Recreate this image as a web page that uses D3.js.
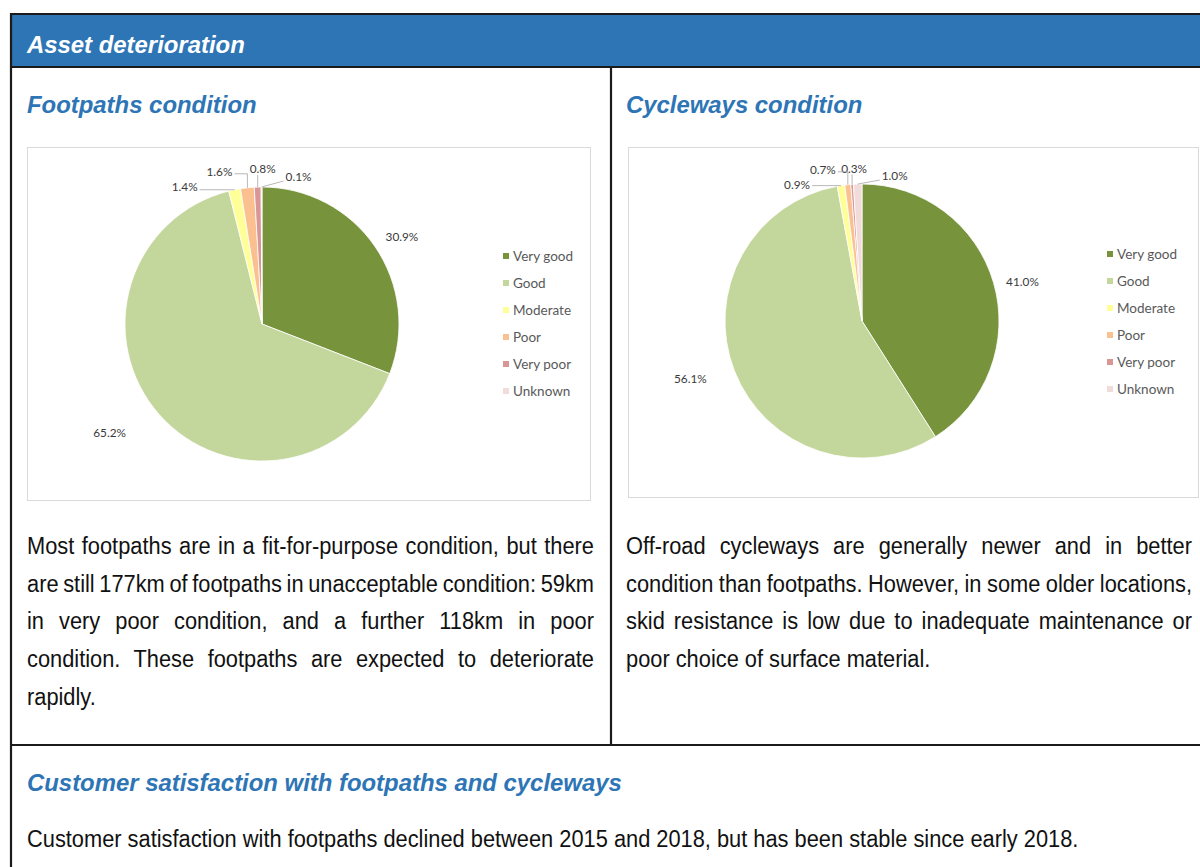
<!DOCTYPE html>
<html><head><meta charset="utf-8">
<script src="https://cdn.jsdelivr.net/npm/d3@7"></script>
<style>html,body{margin:0;padding:0;background:#fff;} svg{display:block}</style>
</head><body><div id="chart"></div>
<script>
// ---------- data ----------
const categories = ["Very good", "Good", "Moderate", "Poor", "Very poor", "Unknown"];
const footpathValues = [30.9, 65.2, 1.4, 1.6, 0.8, 0.1];
const cyclewayValues = [41.0, 56.1, 0.9, 0.7, 0.3, 1.0];
const sliceColors = ["#77933C", "#C3D69B", "#FFFF99", "#FAC090", "#D99694", "#F2DCDB"];
const pageTitle = "Asset deterioration";
const chartTitles = ["Footpaths condition", "Cycleways condition"];
const footpathText = [
  "Most footpaths are in a fit-for-purpose condition, but there",
  "are still 177km of footpaths in unacceptable condition: 59km",
  "in very poor condition, and a further 118km in poor",
  "condition. These footpaths are expected to deteriorate",
  "rapidly."
];
const cyclewayText = [
  "Off-road cycleways are generally newer and in better",
  "condition than footpaths. However, in some older locations,",
  "skid resistance is low due to inadequate maintenance or",
  "poor choice of surface material."
];
const sectionTitle = "Customer satisfaction with footpaths and cycleways";
const sectionText = "Customer satisfaction with footpaths declined between 2015 and 2018, but has been stable since early 2018.";

// ---------- layout ----------
const W = 1200, H = 867;
const BLUE = "#2E75B6", LINE = "#1b1b1b";
const HEAD_FONT = "'Liberation Sans', Arial, Helvetica, sans-serif";
const BODY_FONT = "'Liberation Sans Narrow', 'Arial Narrow', 'Liberation Sans', Arial, sans-serif";
const CHART_FONT = "Lato, 'Open Sans', sans-serif";

const svg = d3.select("#chart").append("svg").attr("width", W).attr("height", H);
svg.append("rect").attr("width", W).attr("height", H).attr("fill", "#fff");

// header bar
svg.append("rect").attr("x", 11).attr("y", 14).attr("width", W - 11).attr("height", 53).attr("fill", BLUE);
// frame lines
const lines = [
  [10, 14, W, 14], [10, 67, W, 67], [11, 13, 11, H], [611, 67, 611, 745], [10, 745, W, 745]
];
svg.selectAll("line.frame").data(lines).join("line").attr("class", "frame")
  .attr("x1", d => d[0]).attr("y1", d => d[1]).attr("x2", d => d[2]).attr("y2", d => d[3])
  .attr("stroke", LINE).attr("stroke-width", 2.2);

function heading(txt, x, y, color) {
  return svg.append("text").attr("x", x).attr("y", y).text(txt)
    .attr("font-family", HEAD_FONT).attr("font-weight", "bold").attr("font-style", "italic")
    .attr("font-size", 23.9).attr("fill", color);
}
heading(pageTitle, 27, 53, "#fff");
heading(chartTitles[0], 27, 113, BLUE);
heading(chartTitles[1], 626, 113, BLUE);
heading(sectionTitle, 27, 791, BLUE);

// chart boxes
svg.append("rect").attr("x", 27.5).attr("y", 147.5).attr("width", 563).attr("height", 353)
  .attr("fill", "#fff").attr("stroke", "#D9D9D9");
svg.append("rect").attr("x", 628.5).attr("y", 147.5).attr("width", 570).attr("height", 350)
  .attr("fill", "#fff").attr("stroke", "#D9D9D9");

// ---------- pies ----------
const color = d3.scaleOrdinal().domain(categories).range(sliceColors);
const pie = d3.pie().sort(null).value(d => d.v);

// label layout: large slices -> radial with nudge; small slices -> leader lines
const pieConfigs = [
  { values: footpathValues, cx: 262, cy: 324, r: 137, legendX: 503, legendY: 256,
    labels: [
      { type: "radial", dx: 2, dy: 7 },
      { type: "radial", dx: -27, dy: -2 },
      { type: "left", lx: -37, ly: -3 },
      { type: "elbowLeft", lx: -15, ly: -16 },
      { type: "up", lx: 5, ly: -18 },
      { type: "right", lx: 24, ly: -10 }
    ] },
  { values: cyclewayValues, cx: 862, cy: 321, r: 137, legendX: 1107, legendY: 254,
    labels: [
      { type: "radial", dx: 0, dy: 7 },
      { type: "radial", dx: -16, dy: -3 },
      { type: "left", lx: -31, ly: -1 },
      { type: "elbowLeft", lx: -12, ly: -15 },
      { type: "up", lx: 2, ly: -16 },
      { type: "right", lx: 24, ly: -8 }
    ] }
];

pieConfigs.forEach(cfg => {
  const data = categories.map((c, i) => ({ c, v: cfg.values[i] }));
  const arcs = pie(data);
  const g = svg.append("g").attr("transform", `translate(${cfg.cx},${cfg.cy})`);
  const arc = d3.arc().innerRadius(0).outerRadius(cfg.r);
  g.selectAll("path").data(arcs).join("path")
    .attr("d", arc).attr("fill", d => color(d.data.c))
    .attr("stroke", "#fff").attr("stroke-width", 0.8);

  const lbl = g.append("g").attr("font-family", CHART_FONT).attr("font-size", 11.8).attr("fill", "#3a3a3a");
  arcs.forEach((a, i) => {
    const L = cfg.labels[i];
    const mid = (a.startAngle + a.endAngle) / 2;
    const txt = d3.format(".1f")(a.data.v) + "%";
    if (L.type === "radial") {
      const R = cfg.r * 1.22;
      const x = Math.sin(mid) * R + L.dx, y = -Math.cos(mid) * R + L.dy;
      lbl.append("text").attr("x", x).attr("y", y).attr("dy", "0.35em").attr("text-anchor", "middle").text(txt);
    } else {
      const px = Math.sin(mid) * cfg.r, py = -Math.cos(mid) * cfg.r;
      const tx = px + L.lx, ty = py + L.ly;
      let pts, anchor;
      if (L.type === "left") { anchor = "end"; pts = [[px, py], [tx + 2, py]]; }
      else if (L.type === "elbowLeft") { anchor = "end"; pts = [[px, py], [px, ty + 2], [tx + 2, ty + 2]]; }
      else if (L.type === "up") { anchor = "middle"; pts = [[px, py], [px, ty + 6]]; }
      else { anchor = "start"; pts = [[px, py], [tx - 2, ty + 4]]; }
      g.append("path").attr("d", d3.line()(pts)).attr("fill", "none")
        .attr("stroke", "#A6A6A6").attr("stroke-width", 0.8);
      lbl.append("text").attr("x", tx).attr("y", ty).attr("dy", "0.35em").attr("text-anchor", anchor).text(txt);
    }
  });

  // legend
  const leg = svg.append("g").attr("transform", `translate(${cfg.legendX},${cfg.legendY})`);
  const rows = leg.selectAll("g").data(categories).join("g")
    .attr("transform", (d, i) => `translate(0,${i * 27})`);
  rows.append("rect").attr("x", 0).attr("y", -3).attr("width", 6).attr("height", 6).attr("fill", d => color(d));
  rows.append("text").attr("x", 10).attr("dy", "0.35em").text(d => d)
    .attr("font-family", CHART_FONT).attr("font-size", 13.5).attr("fill", "#595959");
});

// ---------- body text ----------
const BODY_SIZE = 24.5;
function bodyLine(txt, x, y) {
  return svg.append("text").text(txt).attr("font-family", BODY_FONT).attr("font-size", BODY_SIZE)
    .attr("fill", "#111").attr("x", 0).attr("y", 0).attr("transform", `translate(${x},${y})`)
    .style("white-space", "pre");
}
// calibrate horizontal scale on the single bottom line (27 -> 1079)
const calib = bodyLine(sectionText, 27, 847);
const natural = calib.node().getComputedTextLength();
const k = 1052 / natural;
calib.attr("transform", `translate(27,847) scale(${k},1)`);

function paragraph(lineArr, x, y0, step, width) {
  lineArr.forEach((t, i) => {
    const y = y0 + i * step;
    const el = bodyLine(t, x, y);
    el.attr("transform", `translate(${x},${y}) scale(${k},1)`);
    if (i < lineArr.length - 1) {
      const w = el.node().getComputedTextLength();
      const spaces = (t.match(/ /g) || []).length;
      if (spaces > 0) el.attr("word-spacing", (width / k - w) / spaces);
    }
  });
}
paragraph(footpathText, 27, 554, 37.7, 567);
paragraph(cyclewayText, 626, 554, 37.7, 566);
</script>
</body></html>
